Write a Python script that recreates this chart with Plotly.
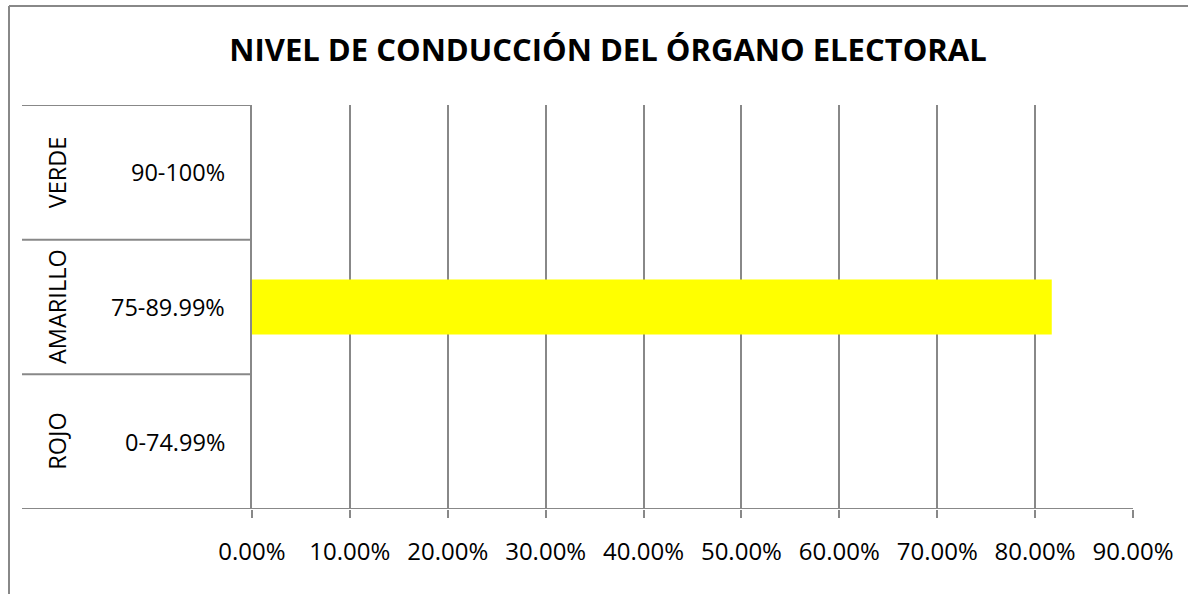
import plotly.graph_objects as go

# Chart data
chart_title = "NIVEL DE CONDUCCIÓN DEL ÓRGANO ELECTORAL"
levels = ["ROJO", "AMARILLO", "VERDE"]            # semáforo, bottom to top
ranges = ["0-74.99%", "75-89.99%", "90-100%"]      # rango de cada nivel
values = [None, 0.817, None]                        # porcentaje obtenido
x_ticks = [0.0, 0.1, 0.2, 0.3, 0.4, 0.5, 0.6, 0.7, 0.8, 0.9]

GRID = "#888888"
FONT = "Open Sans"

# plot-area geometry (px)
W, H = 1188, 594
L, R, T, B = 252, 1133, 105, 509
pw = R - L
table_left = (22 - L) / pw

fig = go.Figure()
fig.add_trace(go.Bar(
    x=values, y=ranges, orientation="h",
    marker=dict(color="#FFFF00", line=dict(width=0)),
    width=0.41, hoverinfo="x+y",
))

shapes = []
# row separators of the category table
for yb in [-0.5, 0.5, 1.5, 2.5]:
    shapes.append(dict(type="line", xref="paper", yref="y",
                       x0=table_left, x1=0 if yb != -0.5 else 1,
                       y0=yb, y1=yb, line=dict(color=GRID, width=2)))
# outer chart frame (top and left edges)
top_y = (H - 6 - (H - B)) / (B - T)
shapes.append(dict(type="line", xref="paper", yref="paper",
                   x0=(9 - L) / pw, x1=(W + 5 - L) / pw,
                   y0=top_y, y1=top_y, line=dict(color=GRID, width=2)))
shapes.append(dict(type="line", xref="paper", yref="paper",
                   x0=(9 - L) / pw, x1=(9 - L) / pw,
                   y0=top_y, y1=-(H - B + 5) / (B - T),
                   line=dict(color=GRID, width=2)))

annotations = []
for lvl, rg in zip(levels, ranges):
    annotations.append(dict(xref="paper", yref="y", x=(227 - L) / pw, y=rg,
                            text=rg, showarrow=False, xanchor="right",
                            yanchor="middle", font=dict(size=23.5, color="black", family=FONT)))
    annotations.append(dict(xref="paper", yref="y", x=(57 - L) / pw, y=rg,
                            text=lvl, showarrow=False, xanchor="center",
                            yanchor="middle", textangle=-90,
                            font=dict(size=23.5, color="black", family=FONT)))

fig.update_layout(
    width=W, height=H,
    margin=dict(l=L, r=W - R, t=T, b=H - B),
    paper_bgcolor="white", plot_bgcolor="white",
    showlegend=False,
    title=dict(text="<b>" + chart_title + "</b>", x=608 / W, xref="container",
               xanchor="center", y=1 - 50 / H, yref="container", yanchor="middle",
               font=dict(size=31, color="black", family=FONT)),
    xaxis=dict(range=[0, 0.9], tickvals=x_ticks, tickformat=".2%",
               showgrid=True, gridcolor=GRID, gridwidth=2,
               zeroline=False, showline=False,
               ticks="outside", ticklen=8, tickcolor=GRID, tickwidth=2,
               ticklabelstandoff=13,
               tickfont=dict(size=24, color="black", family=FONT)),
    yaxis=dict(categoryorder="array", categoryarray=ranges, range=[-0.5, 2.5],
               showticklabels=False, showgrid=False, zeroline=False,
               showline=True, linecolor=GRID, linewidth=2, ticks=""),
    shapes=shapes, annotations=annotations,
    bargap=0.59,
)

fig.write_html("out.html")
